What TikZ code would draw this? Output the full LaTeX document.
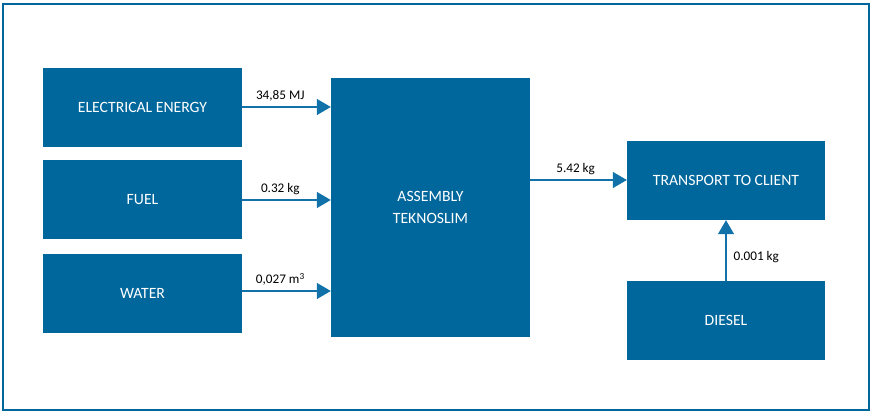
\documentclass[tikz,border=0pt]{standalone}
\usepackage{fontspec}
\setmainfont{Carlito}
\usetikzlibrary{arrows.meta}
\definecolor{boxblue}{RGB}{0,103,156}
\definecolor{lineblue}{RGB}{16,114,168}
\begin{document}
\begin{tikzpicture}[x=1pt,y=-1pt,
  blk/.style={fill=boxblue,draw=none,text=white,font=\fontsize{15.7}{21.5}\selectfont,align=center,inner sep=0pt},
  flow/.style={draw=lineblue,line width=1.3pt,-{Triangle[length=14pt,width=16pt]}},
  lbl/.style={font=\fontsize{13.2}{15}\selectfont,text=black,inner sep=1pt}]
\useasboundingbox (0,0) rectangle (872,414);
\draw[boxblue,line width=2pt] (3,4) rectangle (868.5,410);
\node[blk,minimum width=199pt,minimum height=79pt] (elec) at (142.5,107.5) {ELECTRICAL ENERGY};
\node[blk,minimum width=199pt,minimum height=79pt] (fuel) at (142.5,199.5) {FUEL};
\node[blk,minimum width=199pt,minimum height=79pt] (water) at (142.5,293.5) {WATER};
\node[blk,minimum width=199pt,minimum height=259pt] (asm) at (430.5,207.5) {ASSEMBLY\\TEKNOSLIM};
\node[blk,minimum width=198pt,minimum height=79pt] (trans) at (726,180.5) {TRANSPORT TO CLIENT};
\node[blk,minimum width=198pt,minimum height=79pt] (diesel) at (726,320.5) {DIESEL};
\draw[flow] (elec.east |- 0,107) -- (asm.west |- 0,107) node[lbl,pos=0.43,above=4pt] (l1) {34,85 MJ};
\draw[flow] (fuel.east |- 0,200) -- (asm.west |- 0,200) node[lbl,pos=0.43,above=4pt] (l2) {0.32 kg};
\draw[flow] (water.east |- 0,291) -- (asm.west |- 0,291) node[lbl,pos=0.43,above=4pt] (l3) {0,027 m\textsuperscript{3}};
\draw[flow] (asm.east |- 0,180) -- (trans.west |- 0,180) node[lbl,pos=0.47,above=4pt] (l4) {5.42 kg};
\draw[flow] (diesel.north) -- (trans.south) node[lbl,pos=0.4,right=6pt] (l5) {0.001 kg};
\end{tikzpicture}
\end{document}
